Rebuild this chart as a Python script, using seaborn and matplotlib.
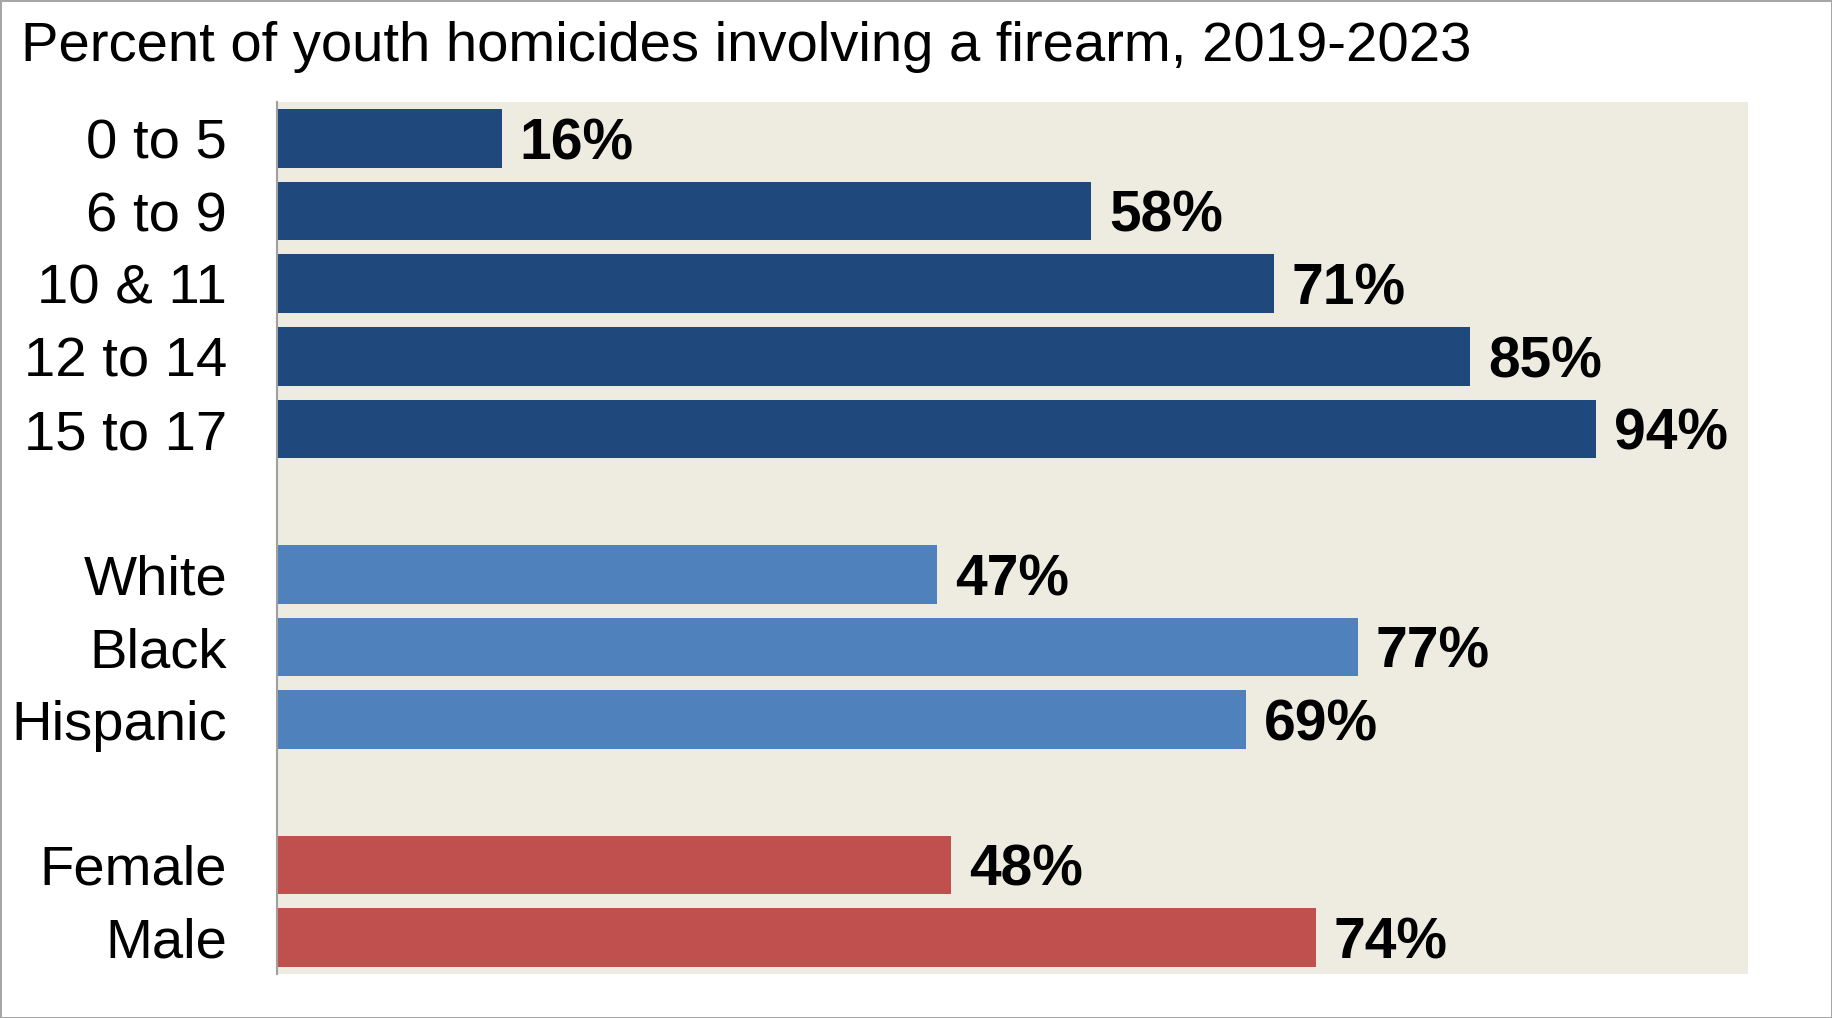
import matplotlib
matplotlib.use("Agg")
import matplotlib.pyplot as plt
import seaborn as sns
import pandas as pd
from matplotlib.ticker import FixedLocator

categories = ["0 to 5", "6 to 9", "10 & 11", "12 to 14", "15 to 17",
              "White", "Black", "Hispanic", "Female", "Male"]
values = [16, 58, 71, 85, 94, 47, 77, 69, 48, 74]
groups = ["Age", "Age", "Age", "Age", "Age", "Race", "Race", "Race", "Sex", "Sex"]
order = ["0 to 5", "6 to 9", "10 & 11", "12 to 14", "15 to 17", " ",
         "White", "Black", "Hispanic", "  ", "Female", "Male"]
palette = {"Age": "#1F497D", "Race": "#4F81BD", "Sex": "#C0504D"}
title = "Percent of youth homicides involving a firearm, 2019-2023"

df = pd.DataFrame({"cat": categories, "val": values, "grp": groups})

sns.set_style("white")
plt.rcParams["font.family"] = ["Liberation Sans", "DejaVu Sans"]
plt.rcParams["text.color"] = "black"
plt.rcParams["ytick.labelcolor"] = "black"

W, H = 1832, 1018
fig = plt.figure(figsize=(W / 100, H / 100), dpi=100)
fig.patch.set_edgecolor("#A6A6A6")
fig.patch.set_linewidth(2)
ax = fig.add_axes([277 / W, 1 - 974 / H, (1748 - 277) / W, (974 - 102) / H])

sns.barplot(data=df, x="val", y="cat", hue="grp", order=order, palette=palette,
            dodge=False, width=0.81, saturation=1, legend=False, linewidth=0, ax=ax)

ax.set_facecolor("#EEECE1")
ax.set_xlim(0, 104.8)
ax.set_ylim(len(order) - 0.5, -0.5)
ax.set_xlabel("")
ax.set_ylabel("")
ax.xaxis.set_visible(False)
for s in ["top", "right", "bottom"]:
    ax.spines[s].set_visible(False)
ax.spines["left"].set_color("#A0A0A0")
ax.spines["left"].set_linewidth(1.5)

ax.set_yticks(range(len(order)))
ax.set_yticklabels([c.strip() for c in order], fontsize=40.5, color="black")
ax.tick_params(axis="y", which="major", length=0, pad=36)
ax.yaxis.set_minor_locator(FixedLocator([i - 0.5 for i in range(len(order) + 1)]))
ax.tick_params(axis="y", which="minor", length=13, width=1.5, color="#A0A0A0")

for cont in ax.containers:
    labels = ax.bar_label(cont, fmt="{:.0f}%", padding=13, fontsize=41,
                          fontweight="bold", color="black")
    for t in labels:
        t.set_va("center_baseline")

fig.text(21 / W, 1 - 61 / H, title, fontsize=40.5, ha="left", va="baseline",
         color="black")

fig.savefig("out.png", dpi=100, edgecolor=fig.get_edgecolor())
